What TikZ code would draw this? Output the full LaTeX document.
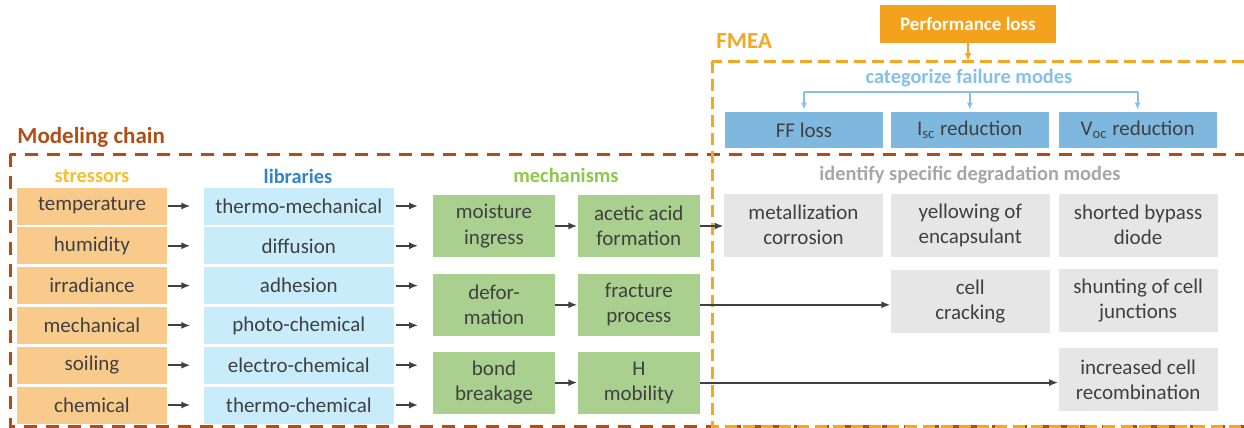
\documentclass[tikz,border=0pt]{standalone}
\usepackage{fontspec}
\setmainfont{Carlito}
\usetikzlibrary{positioning,arrows.meta,calc}

\definecolor{txtgray}{HTML}{404040}
\definecolor{stressfill}{HTML}{F8CB8D}
\definecolor{libfill}{HTML}{C9ECFB}
\definecolor{mechfill}{HTML}{A9D08E}
\definecolor{modefill}{HTML}{E7E6E6}
\definecolor{failfill}{HTML}{7FB8DF}
\definecolor{perffill}{HTML}{F4A11D}
\definecolor{fmeaorange}{HTML}{F5A623}
\definecolor{chainbrown}{HTML}{B04E16}
\definecolor{stresslab}{HTML}{F7BE2E}
\definecolor{liblab}{HTML}{2F86C8}
\definecolor{mechlab}{HTML}{8CC84B}
\definecolor{graylab}{HTML}{A6A6A6}
\definecolor{catblue}{HTML}{86C0E8}

\begin{document}
\begin{tikzpicture}[
    x=0.5pt, y=-0.5pt,
    font=\fontsize{10.5}{12.6}\selectfont,
    box/.style={inner sep=1pt, align=center, text=txtgray},
    stress/.style={box, fill=stressfill, minimum width=75pt, minimum height=18.5pt},
    lib/.style={box, fill=libfill, minimum width=95pt, minimum height=18.5pt},
    mech/.style={box, fill=mechfill, minimum width=61pt, minimum height=31pt},
    mode/.style={box, fill=modefill, minimum width=79.5pt, minimum height=31.5pt},
    fail/.style={box, fill=failfill, minimum width=79pt, minimum height=18pt},
    perf/.style={fill=perffill, text=white, minimum width=88pt, minimum height=19pt,
                 font=\fontsize{9.5}{11}\selectfont\bfseries},
    head/.style={inner sep=0pt, font=\fontsize{10.2}{12}\selectfont\bfseries},
    bighead/.style={inner sep=0pt, anchor=west,
                    font=\fontsize{11.5}{13}\selectfont\bfseries},
    arr/.style={draw=txtgray, line width=1pt, -{Latex[length=4.5pt,width=3.5pt]}},
    catarr/.style={draw=catblue, line width=0.9pt, -{Latex[length=3.5pt,width=3pt]}},
    chainbox/.style={draw=chainbrown, line width=1.5pt, dash pattern=on 6.5pt off 4.5pt},
    fmeabox/.style={draw=fmeaorange, line width=1.5pt, dash pattern=on 6pt off 3pt},
  ]
  \clip (0,0) rectangle (1244,428);

  % ---------------------------------------------------------------
  % frames: modeling chain (brown) and FMEA (orange)
  % ---------------------------------------------------------------
  \draw[chainbox] (10,154) rectangle (1270,426);
  \draw[fmeabox] (712,61) rectangle (1270,426);
  \node[bighead, text=chainbrown] (chain) at (17,137) {Modeling chain};
  \node[bighead, text=fmeaorange] (fmea) at (716,41) {FMEA};

  % ---------------------------------------------------------------
  % stressors and libraries
  % ---------------------------------------------------------------
  \node[head, text=stresslab] (hst) at (92,176) {stressors};
  \node[head, text=liblab] (hlb) at (298,176) {libraries};

  \node[stress] (st1) at (92,206) {temperature};
  \node[stress, below=1pt of st1] (st2) {humidity};
  \node[stress, below=1pt of st2] (st3) {irradiance};
  \node[stress, below=1pt of st3] (st4) {mechanical};
  \node[stress, below=1pt of st4] (st5) {soiling};
  \node[stress, below=1pt of st5] (st6) {chemical};

  \node[lib, right=18pt of st1] (lb1) {thermo-mechanical};
  \node[lib, right=18pt of st2] (lb2) {diffusion};
  \node[lib, right=18pt of st3] (lb3) {adhesion};
  \node[lib, right=18pt of st4] (lb4) {photo-chemical};
  \node[lib, right=18pt of st5] (lb5) {electro-chemical};
  \node[lib, right=18pt of st6] (lb6) {thermo-chemical};

  \draw[arr, shorten <=0.5pt, shorten >=6.5pt] (st1) -- (lb1);
  \draw[arr, shorten <=0.5pt, shorten >=6.5pt] (st2) -- (lb2);
  \draw[arr, shorten <=0.5pt, shorten >=6.5pt] (st3) -- (lb3);
  \draw[arr, shorten <=0.5pt, shorten >=6.5pt] (st4) -- (lb4);
  \draw[arr, shorten <=0.5pt, shorten >=6.5pt] (st5) -- (lb5);
  \draw[arr, shorten <=0.5pt, shorten >=6.5pt] (st6) -- (lb6);

  % open-ended library outputs
  \coordinate[right=12pt of lb1.east] (o1);
  \coordinate[right=12pt of lb2.east] (o2);
  \coordinate[right=12pt of lb3.east] (o3);
  \coordinate[right=12pt of lb4.east] (o4);
  \coordinate[right=12pt of lb5.east] (o5);
  \coordinate[right=12pt of lb6.east] (o6);
  \draw[arr, shorten <=1pt] (lb1) -- (o1);
  \draw[arr, shorten <=1pt] (lb2) -- (o2);
  \draw[arr, shorten <=1pt] (lb3) -- (o3);
  \draw[arr, shorten <=1pt] (lb4) -- (o4);
  \draw[arr, shorten <=1pt] (lb5) -- (o5);
  \draw[arr, shorten <=1pt] (lb6) -- (o6);

  % ---------------------------------------------------------------
  % mechanisms
  % ---------------------------------------------------------------
  \node[head, text=mechlab] (hmc) at (566,175) {mechanisms};

  \node[mech] (m1) at (494,226) {moisture\\ingress};
  \node[mech, right=11pt of m1] (m2) {acetic acid\\formation};
  \node[mech, below=8pt of m1] (m3) {defor-\\mation};
  \node[mech, right=11pt of m3] (m4) {fracture\\process};
  \node[mech, below=7.5pt of m3] (m5) {bond\\breakage};
  \node[mech, right=11pt of m5] (m6) {H\\mobility};

  \draw[arr] (m1) -- (m2);
  \draw[arr] (m3) -- (m4);
  \draw[arr] (m5) -- (m6);

  % ---------------------------------------------------------------
  % FMEA: performance loss, failure modes, degradation modes
  % ---------------------------------------------------------------
  \node[perf] (perf) at (968,24) {Performance loss};
  \coordinate (fmtop) at (968,61);
  \draw[draw=fmeaorange, line width=1pt, -{Latex[length=4pt,width=3.5pt]}] (perf) -- (fmtop);

  \node[head, text=catblue] (cat) at (969,78) {categorize failure modes};
  \node[fail] (ff) at (804,130) {FF loss};
  \node[fail, right=3.5pt of ff] (isc) {I\textsubscript{sc} reduction};
  \node[fail, right=4.5pt of isc] (voc) {V\textsubscript{oc} reduction};

  \coordinate (br) at (969,92);
  \draw[draw=catblue, line width=0.9pt] (ff.north |- br) -- (voc.north |- br);
  \draw[catarr, shorten >=1pt] (ff.north |- br) -- (ff.north);
  \draw[catarr, shorten >=1pt] (isc.north |- br) -- (isc.north);
  \draw[catarr, shorten >=1pt] (voc.north |- br) -- (voc.north);

  \node[head, text=graylab] (hdm) at (970,175) {identify specific degradation modes};

  \node[mode] (d1) at (803.5,225) {metallization\\corrosion};
  \node[mode, right=3.5pt of d1] (d2) {yellowing of\\encapsulant};
  \node[mode, right=4pt of d2] (d3) {shorted bypass\\diode};
  \node[mode, below=6.5pt of d2] (d4) {cell\\cracking};
  \node[mode, below=6pt of d3] (d5) {shunting of cell\\junctions};
  \node[mode, below=7.5pt of d5] (d6) {increased cell\\recombination};

  \draw[arr] (m2) -- (m2 -| d1.west);
  \draw[arr] (m4) -- (m4 -| d4.west);
  \draw[arr] (m6) -- (m6 -| d6.west);
\end{tikzpicture}
\end{document}
